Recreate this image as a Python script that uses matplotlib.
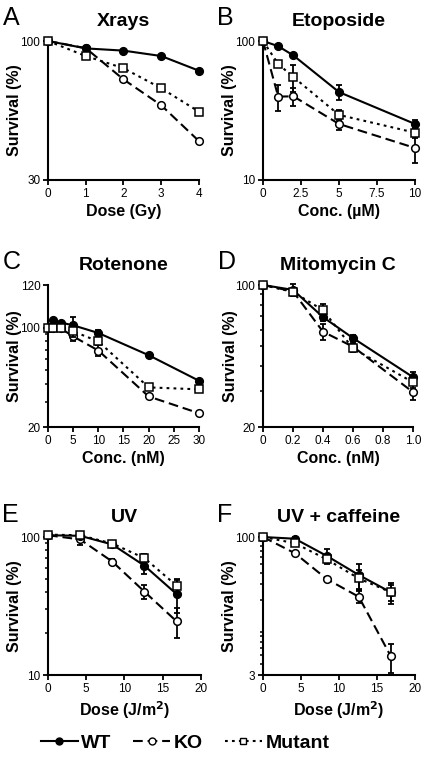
import matplotlib
matplotlib.use("Agg")
import matplotlib.pyplot as plt
from matplotlib.lines import Line2D
from matplotlib.ticker import NullFormatter, FixedLocator
import numpy as np

plt.rcParams['font.family'] = ['Liberation Sans', 'DejaVu Sans']
plt.rcParams['lines.scale_dashes'] = False

# A - Xrays
xray_dose = [0, 1, 2, 3, 4]
xray_wt = [100, 93.8, 92, 87.8, 77.3]
xray_ko = [100, 94, 71.7, 57.3, 42]
xray_mut = [100, 87.8, 79, 66.4, 54.2]

# B - Etoposide
eto_conc = [0, 1, 2, 5, 10]
eto_wt = [100, 91.8, 78.7, 42.9, 25.3]
eto_wt_err = [0, 2, 2, 5.5, 1.5]
eto_ko = [100, 39.8, 40, 25.3, 17]
eto_ko_err = [0, 8.5, 6, 2.5, 3.7]
eto_mut = [100, 68.3, 55, 29.4, 21.9]
eto_mut_err = [0, 3, 12, 2.5, 2]

# C - Rotenone
rot_conc = [0, 1, 2.5, 5, 10, 20, 30]
rot_wt = [100, 103.5, 102.4, 101.1, 91.7, 64, 42.3]
rot_wt_err = [0, 0, 0, 4, 4, 0, 0]
rot_ko = [100, 99, 99, 86.8, 69, 32.8, 25]
rot_ko_err = [0, 0, 0, 6, 6, 0, 0]
rot_mut = [100, 100, 100, 94.2, 80, 38, 36.8]
rot_mut_err = [0, 0, 0, 8, 5, 0, 0]

# D - Mitomycin C
mmc_conc = [0, 0.2, 0.4, 0.6, 1.0]
mmc_wt = [100, 94.6, 69.5, 54.8, 35.2]
mmc_wt_err = [0, 6, 3, 2, 2]
mmc_ko = [100, 93, 58.9, 49.7, 29.7]
mmc_ko_err = [0, 3, 5.5, 2, 2.5]
mmc_mut = [100, 92.4, 75.2, 48.7, 33.2]
mmc_mut_err = [0, 3, 5, 2, 2]

# E - UV
uv_dose = [0, 4.2, 8.4, 12.6, 16.8]
uv_wt = [103, 102, 88.3, 62, 38.6]
uv_wt_err = [0, 2, 4, 8.5, 10.5]
uv_ko = [103, 96, 66.4, 40.2, 24.5]
uv_ko_err = [0, 8, 3, 4.5, 6]
uv_mut = [104, 103, 89.7, 70.3, 44.5]
uv_mut_err = [0, 2, 3, 5, 5]

# F - UV + caffeine
uvc_dose = [0, 4.2, 8.4, 12.6, 16.8]
uvc_wt = [100, 95.7, 61.8, 38.1, 24.6]
uvc_wt_err = [0, 4, 11, 12, 6.5]
uvc_ko = [100, 66.2, 34.3, 21.9, 4.86]
uvc_ko_err = [0, 2, 2, 3.4, 1.7]
uvc_mut = [100, 85.4, 56.6, 34.9, 24.6]
uvc_mut_err = [0, 4, 5, 8, 5]


def c_fwd(y):
    y = np.asarray(y, dtype=float)
    return np.where(y <= 100, np.log10(np.clip(y, 1e-6, None)), 2 + (y - 100) / 20 * 0.30)


def c_inv(v):
    v = np.asarray(v, dtype=float)
    return np.where(v <= 2, 10 ** np.clip(v, -6, 2), 100 + (v - 2) / 0.30 * 20)


fig = plt.figure(figsize=(4.27, 7.59), dpi=100)
W, H = 427, 759


def make_ax(left, right, top, bottom):
    return fig.add_axes([left / W, 1 - bottom / H, (right - left) / W, (bottom - top) / H])


def series(ax, x, y, err, style):
    kw = dict(color='black', lw=1.5, ms=5.5, mew=1.1, clip_on=False, zorder=style[3])
    if err is not None:
        ax.errorbar(x, y, yerr=err, fmt='none', ecolor='black', elinewidth=1.3,
                    capsize=2.5, capthick=1.3, clip_on=False, zorder=style[3] - 0.5)
    ax.plot(x, y, marker=style[0], mfc=style[1], mec='black', dashes=style[2], **kw)


WT = ('o', 'black', (None, None), 4)
KO = ('o', 'white', (7, 3.5), 3)
MUT = ('s', 'white', (2, 3), 5)


def panel(ax, letter, title, x, wt, ko, mut, errs, xlim, ylim, xticks, xticklabels,
          yticks, xlabel, minor=True, cscale=False):
    series(ax, x, ko, errs[1], KO)
    series(ax, x, wt, errs[0], WT)
    series(ax, x, mut, errs[2], MUT)
    if cscale:
        ax.set_yscale('function', functions=(c_fwd, c_inv))
    else:
        ax.set_yscale('log')
    ax.set_xlim(*xlim)
    ax.set_ylim(*ylim)
    ax.set_xticks(xticks)
    ax.set_xticklabels(xticklabels)
    ax.yaxis.set_major_locator(FixedLocator(yticks))
    ax.set_yticklabels([str(t) for t in yticks])
    if minor:
        lo, hi = ylim
        mins = [m * d for d in [1, 10, 100] for m in range(2, 10)]
        mins = [m for m in mins if lo < m < min(hi, 100) and m not in yticks]
        ax.yaxis.set_minor_locator(FixedLocator(mins))
    else:
        ax.yaxis.set_minor_locator(FixedLocator([]))
    ax.yaxis.set_minor_formatter(NullFormatter())
    for s in ['top', 'right']:
        ax.spines[s].set_visible(False)
    for s in ['left', 'bottom']:
        ax.spines[s].set_linewidth(1.5)
    ax.tick_params(which='major', length=3.5, width=1.3, labelsize=8.5, pad=2)
    ax.tick_params(which='minor', length=2, width=1.1)
    ax.set_ylabel('Survival (%)', fontsize=11.5, fontweight='bold')
    ax.yaxis.set_label_coords(-0.17, 0.5)
    ax.set_xlabel(xlabel, fontsize=11.5, fontweight='bold', labelpad=3)
    ax.set_title(title, fontsize=14, fontweight='bold', pad=11)
    ax.text(-0.3, 1.25, letter, transform=ax.transAxes, fontsize=18, va='top', ha='left')


axA = make_ax(48, 199, 41, 180)
panel(axA, 'A', 'Xrays', xray_dose, xray_wt, xray_ko, xray_mut, (None, None, None),
      (0, 4), (30, 100), [0, 1, 2, 3, 4], ['0', '1', '2', '3', '4'], [30, 100],
      'Dose (Gy)', minor=False)

axB = make_ax(263, 415, 41, 180)
panel(axB, 'B', 'Etoposide', eto_conc, eto_wt, eto_ko, eto_mut,
      (eto_wt_err, eto_ko_err, eto_mut_err),
      (0, 10), (10, 100), [0, 2.5, 5, 7.5, 10], ['0', '2.5', '5', '7.5', '10'], [10, 100],
      'Conc. (\u00b5M)', minor=False)

axC = make_ax(48, 199, 285, 427)
panel(axC, 'C', 'Rotenone', rot_conc, rot_wt, rot_ko, rot_mut,
      (rot_wt_err, rot_ko_err, rot_mut_err),
      (0, 30), (20, 120), [0, 5, 10, 15, 20, 25, 30], ['0', '5', '10', '15', '20', '25', '30'],
      [20, 100, 120], 'Conc. (nM)', cscale=True)

axD = make_ax(263, 413, 285, 427)
panel(axD, 'D', 'Mitomycin C', mmc_conc, mmc_wt, mmc_ko, mmc_mut,
      (mmc_wt_err, mmc_ko_err, mmc_mut_err),
      (0, 1.0), (20, 100), [0, 0.2, 0.4, 0.6, 0.8, 1.0], ['0', '0.2', '0.4', '0.6', '0.8', '1.0'],
      [20, 100], 'Conc. (nM)')

axE = make_ax(48, 201, 537, 675)
panel(axE, 'E', 'UV', uv_dose, uv_wt, uv_ko, uv_mut,
      (uv_wt_err, uv_ko_err, uv_mut_err),
      (0, 20), (10, 100), [0, 5, 10, 15, 20], ['0', '5', '10', '15', '20'], [10, 100],
      'Dose (J/m$^\\mathbf{2}$)')

axF = make_ax(263, 415, 537, 675)
panel(axF, 'F', 'UV + caffeine', uvc_dose, uvc_wt, uvc_ko, uvc_mut,
      (uvc_wt_err, uvc_ko_err, uvc_mut_err),
      (0, 20), (3, 100), [0, 5, 10, 15, 20], ['0', '5', '10', '15', '20'], [3, 100],
      'Dose (J/m$^\\mathbf{2}$)')

handles = [
    Line2D([], [], color='black', lw=1.5, marker='o', mfc='black', mec='black', ms=5),
    Line2D([], [], color='black', lw=1.5, marker='o', mfc='white', mec='black', ms=5, dashes=(7, 3.5)),
    Line2D([], [], color='black', lw=1.5, marker='s', mfc='white', mec='black', ms=5, dashes=(2, 3)),
]
fig.legend(handles, ['WT', 'KO', 'Mutant'], loc='center', bbox_to_anchor=(185 / W, 1 - 743 / H),
           ncol=3, frameon=False, handlelength=1.9, handletextpad=0.2, columnspacing=1.1,
           prop={'weight': 'bold', 'size': 14})

fig.savefig('out.png', dpi=100)
